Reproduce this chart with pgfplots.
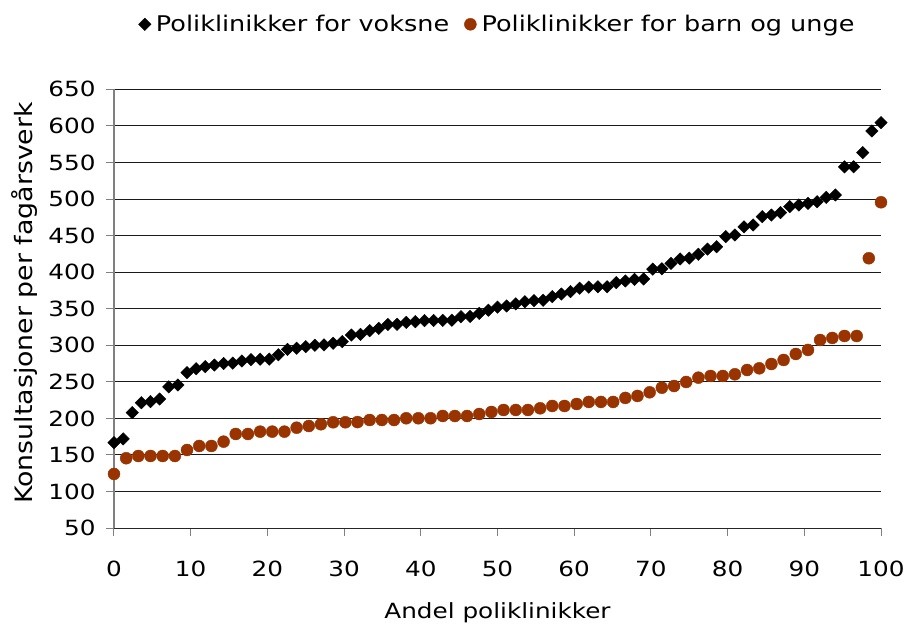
\documentclass[border=0pt]{standalone}
\usepackage{fontspec}
\setmainfont{DejaVu Sans}[FakeStretch=1.18]
\newfontfamily\ylabfont{DejaVu Sans}[FakeStretch=1.12]
\usepackage{pgfplots}
\usepackage{pgfplotstable}
\pgfplotsset{compat=1.18}
\definecolor{brownc}{RGB}{153,51,0}

\pgfplotstableread{
x y
0 167
1.19 172
2.38 208
3.57 221.5
4.76 223
5.95 226.5
7.14 243
8.33 245.7
9.52 262.5
10.71 268
11.90 270.7
13.10 273
14.29 275
15.48 275.5
16.67 278.5
17.86 280.5
19.05 281
20.24 281
21.43 287
22.62 294.5
23.81 296
25.00 298
26.19 300
27.38 300.5
28.57 302.7
29.76 305
30.95 314
32.14 315
33.33 320
34.52 323
35.71 328.3
36.90 328.7
38.10 331.4
39.29 332.3
40.48 333.7
41.67 334
42.86 334
44.05 334.3
45.24 339
46.43 339.5
47.62 343.7
48.81 348
50.00 352
51.19 353.7
52.38 356.5
53.57 359.6
54.76 361
55.95 361.5
57.14 366.4
58.33 370
59.52 373.3
60.71 378
61.90 379.5
63.10 380
64.29 380
65.48 385.6
66.67 388
67.86 390.2
69.05 390.5
70.24 404
71.43 404.5
72.62 412
73.81 418
75.00 419
76.19 424.4
77.38 431.6
78.57 434.8
79.76 448.5
80.95 450.8
82.14 462
83.33 464.5
84.52 475.8
85.71 478
86.90 481.3
88.10 489.5
89.29 491.8
90.48 494
91.67 496.3
92.86 502.3
94.05 505.5
95.24 544
96.43 544
97.62 563.3
98.81 593
100 604.3
}\voksne

\pgfplotstableread{
x y
0 124
1.59 145.5
3.17 148.6
4.76 148.6
6.35 148.6
7.94 148.6
9.52 156.8
11.11 162.3
12.70 162.3
14.29 168.2
15.87 178.7
17.46 178.7
19.05 181.9
20.63 181.9
22.22 181.9
23.81 187.3
25.40 189.6
26.98 192
28.57 194.7
30.16 194.7
31.75 195
33.33 197.8
34.92 197.8
36.51 197.8
38.10 200.2
39.68 200.2
41.27 200.2
42.86 203.3
44.44 203.3
46.03 203.3
47.62 206
49.21 208.8
50.79 211.5
52.38 211.5
53.97 211.5
55.56 213.8
57.14 217
58.73 217
60.32 219.7
61.90 222.5
63.49 222.5
65.08 222.5
66.67 228
68.25 230.7
69.84 235.7
71.43 242
73.02 244.3
74.60 249.8
76.19 255.7
77.78 258
79.37 258
80.95 260.3
82.54 266.2
84.13 268.5
85.71 274.4
87.30 279.9
88.89 288.1
90.48 293.6
92.06 307.2
93.65 310
95.24 312.7
96.83 312.7
98.41 419
100 495.5
}\barn

\begin{document}
\begin{tikzpicture}
\begin{axis}[
  scale only axis, width=767bp, height=438.8bp,
  xmin=0, xmax=100, ymin=50, ymax=650,
  xtick={0,10,...,100}, ytick={50,100,...,650},
  axis x line=bottom, axis y line=left,
  axis line style={-},
  x axis line style={black!85, line width=1bp},
  y axis line style={black!50, line width=1.5bp},
  ymajorgrids, grid style={black!90, line width=1bp},
  tick align=outside, major tick length=8bp,
  tick style={black!50, line width=1bp},
  ticklabel style={font=\fontsize{21}{25}\selectfont},
  yticklabel style={xshift=-7bp},
  xticklabel style={yshift=-21bp},
  /pgf/number format/assume math mode=true,
  /pgf/number format/1000 sep={},
  clip=false,
  xlabel={Andel poliklinikker},
  xlabel style={at={(axis description cs:0.5,0)}, anchor=base, yshift=-90bp, font=\fontsize{21}{25}\selectfont},
  ylabel={Konsultasjoner per fagårsverk},
  ylabel style={at={(axis description cs:-0.1173,0.513)}, rotate=0, anchor=center, font=\ylabfont\fontsize{24}{28}\selectfont},
  legend style={draw=none, fill=none, at={(0.5,1)}, anchor=center, yshift=65bp,
     legend columns=2, font=\fontsize{21.7}{26}\selectfont,
     /tikz/every even column/.append style={column sep=13bp}},
  legend image code/.code={\draw[mark repeat=2,mark phase=2,#1] plot coordinates {(0bp,0bp)(6bp,0bp)(12bp,0bp)}; \path (0bp,0bp) (15bp,0bp);},
]
\addplot[only marks, mark=square*, mark size=4.4bp, black, mark options={rotate=45, fill=black, draw=black}] table[x=x,y=y] {\voksne};
\addlegendentry{Poliklinikker for voksne}
\addplot[only marks, mark=*, mark size=6bp, brownc, mark options={fill=brownc, draw=brownc}] table[x=x,y=y] {\barn};
\addlegendentry{Poliklinikker for barn og unge}
\coordinate (ll) at (rel axis cs:0,0);
\end{axis}
\pgfresetboundingbox
\path[use as bounding box] ([shift={(-114bp,-96.9bp)}]ll) rectangle ([shift={(793bp,528.1bp)}]ll);
\end{tikzpicture}
\end{document}
